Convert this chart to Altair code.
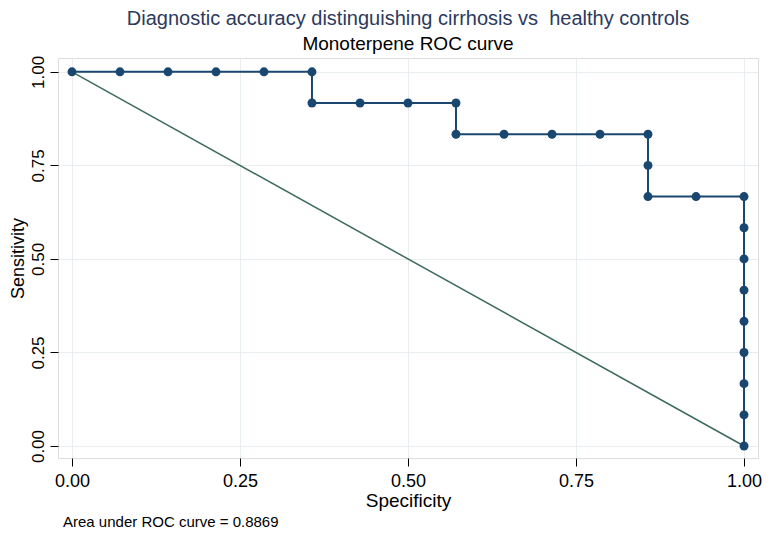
import altair as alt
import pandas as pd

# ROC curve points (specificity axis, sensitivity)
spec = [0.0, 0.0714, 0.1429, 0.2143, 0.2857, 0.3571, 0.3571, 0.4286, 0.5, 0.5714,
        0.5714, 0.6429, 0.7143, 0.7857, 0.8571, 0.8571, 0.8571, 0.9286, 1.0, 1.0,
        1.0, 1.0, 1.0, 1.0, 1.0, 1.0, 1.0]
sens = [1.0, 1.0, 1.0, 1.0, 1.0, 1.0, 0.9167, 0.9167, 0.9167, 0.9167,
        0.8333, 0.8333, 0.8333, 0.8333, 0.8333, 0.75, 0.6667, 0.6667, 0.6667, 0.5833,
        0.5, 0.4167, 0.3333, 0.25, 0.1667, 0.0833, 0.0]
ref_x = [0.0, 1.0]
ref_y = [1.0, 0.0]
ticks = [0.0, 0.25, 0.5, 0.75, 1.0]
title = "Diagnostic accuracy distinguishing cirrhosis vs\u00a0 healthy controls"
subtitle = "Monoterpene ROC curve"
note = "Area under ROC curve = 0.8869"

roc = pd.DataFrame({"spec": spec, "sens": sens, "order": list(range(len(spec)))})
ref = pd.DataFrame({"spec": ref_x, "sens": ref_y, "order": [0, 1]})

FONT = "Liberation Sans"
NAVY = "#1a476f"

xs = alt.Scale(domain=[-0.0208, 1.0208], nice=False, zero=False)
ys = alt.Scale(domain=[-0.032, 1.037], nice=False, zero=False)

xaxis = alt.Axis(values=ticks, format=".2f", title="Specificity", grid=True,
                 gridColor="#e8eef0", domain=False, tickColor="black", tickSize=8,
                 labelFontSize=18, titleFontSize=19, labelColor="black",
                 titleColor="black", titleFontWeight="normal", labelPadding=6,
                 titlePadding=1, labelFont=FONT, titleFont=FONT)
yaxis = alt.Axis(values=ticks, format=".2f", title="Sensitivity", grid=True,
                 gridColor="#e8eef0", domain=False, tickColor="black", tickSize=8,
                 labelFontSize=17, titleFontSize=18, labelColor="black",
                 titleColor="black", titleFontWeight="normal", labelAngle=-90,
                 labelAlign="center", labelBaseline="bottom", labelPadding=3,
                 titlePadding=2, labelFont=FONT, titleFont=FONT)

diag = alt.Chart(ref).mark_line(color="#3d6b5a", strokeWidth=1.5).encode(
    x=alt.X("spec:Q", scale=xs, axis=xaxis),
    y=alt.Y("sens:Q", scale=ys, axis=yaxis),
    order="order:Q",
)
line = alt.Chart(roc).mark_line(color=NAVY, strokeWidth=2).encode(
    x=alt.X("spec:Q", scale=xs),
    y=alt.Y("sens:Q", scale=ys),
    order="order:Q",
)
pts = alt.Chart(roc).mark_circle(color=NAVY, size=80, opacity=1).encode(
    x=alt.X("spec:Q", scale=xs),
    y=alt.Y("sens:Q", scale=ys),
)
foot = alt.Chart(pd.DataFrame({"t": [note]})).mark_text(
    align="left", baseline="alphabetic", fontSize=15, font=FONT, color="black"
).encode(x=alt.value(5), y=alt.value(469), text="t:N")

chart = alt.layer(diag, line, pts, foot).properties(
    width=700, height=400,
    autosize=alt.AutoSizeParams(type="none"),
    padding={"left": 50, "top": 50, "right": 4, "bottom": 73},
    title=alt.TitleParams(text=title, subtitle=subtitle, anchor="middle",
                          fontSize=20, subtitleFontSize=19, color="#2c3a5c",
                          subtitleColor="black", font=FONT, subtitleFont=FONT,
                          fontWeight="normal", offset=1, subtitlePadding=6),
).configure_view(stroke="black", strokeWidth=1.5).configure(background="white")

chart.save("out.html", embed_options={"renderer": "svg", "actions": False})
